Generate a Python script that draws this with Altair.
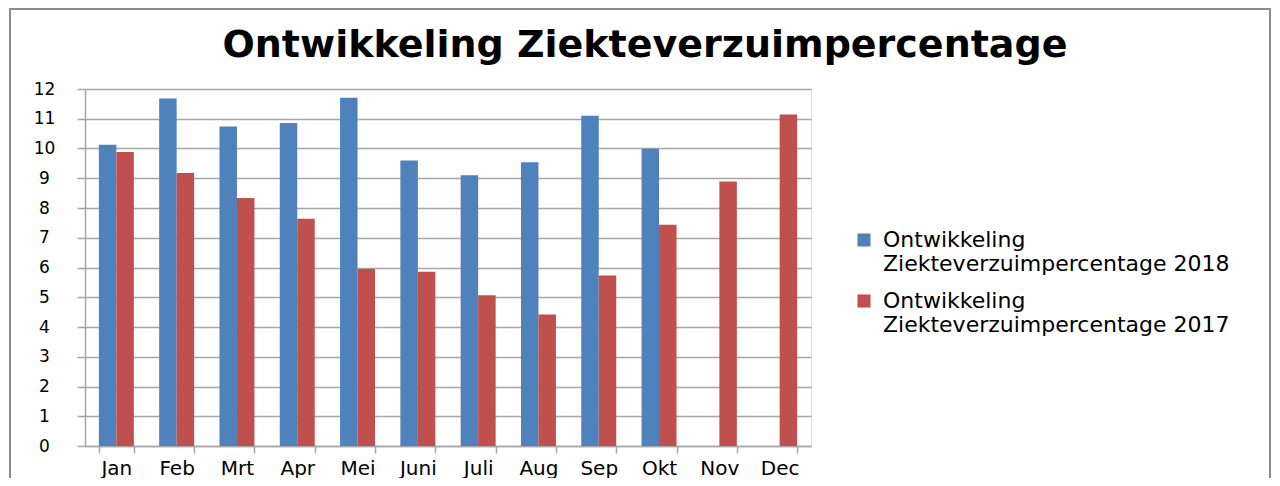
import altair as alt
import pandas as pd

months = ["Jan", "Feb", "Mrt", "Apr", "Mei", "Juni", "Juli", "Aug", "Sep", "Okt", "Nov", "Dec"]
values_2018 = [10.13, 11.68, 10.74, 10.86, 11.71, 9.6, 9.1, 9.54, 11.1, 9.99, None, None]
values_2017 = [9.88, 9.18, 8.34, 7.64, 5.95, 5.86, 5.07, 4.42, 5.73, 7.44, 8.89, 11.14]
series = ["2018", "2017"]
colors = ["#4F81BD", "#C0504D"]
y_ticks = list(range(0, 13))
title_text = "Ontwikkeling Ziekteverzuimpercentage"

rows = []
for i, m in enumerate(months):
    rows.append({"maand": m, "jaar": "2018", "waarde": values_2018[i]})
    rows.append({"maand": m, "jaar": "2017", "waarde": values_2017[i]})
df = pd.DataFrame(rows)

FONT = "DejaVu Sans"
GRID = "#A6A6A6"

bars = alt.Chart(df).mark_bar().encode(
    x=alt.X("maand:N", sort=months, title=None,
            scale=alt.Scale(paddingInner=0.42, paddingOuter=0.23),
            axis=alt.Axis(labelAngle=0, labelFont=FONT, labelFontSize=20, labelColor="#000000",
                          labelPadding=5, tickSize=7, tickBand="extent", tickColor=GRID,
                          domainColor=GRID, domainWidth=1.5, tickWidth=1.5, grid=False)),
    xOffset=alt.XOffset("jaar:N", sort=series, scale=alt.Scale(paddingInner=0, paddingOuter=0)),
    y=alt.Y("waarde:Q", title=None,
            scale=alt.Scale(domain=[0, 12], nice=False),
            axis=alt.Axis(values=y_ticks, labelFont=FONT, labelFontSize=17, labelColor="#000000",
                          labelAlign="center", labelPadding=33, tickSize=8, tickColor=GRID,
                          tickWidth=1.5, domainColor=GRID, domainWidth=1.5,
                          gridColor=GRID, gridWidth=1.5)),
    color=alt.Color("jaar:N", sort=series, title=None,
                    scale=alt.Scale(domain=series, range=colors),
                    legend=alt.Legend(
                        orient="none", legendX=768, legendY=140,
                        symbolType="square", symbolSize=170, symbolStrokeWidth=0,
                        labelFont=FONT, labelFontSize=22, labelColor="#000000",
                        labelLimit=0, labelOffset=8, rowPadding=15,
                        labelExpr="['Ontwikkeling', 'Ziekteverzuimpercentage ' + datum.label]")),
)

dummy = pd.DataFrame({"a": [0]})

frame = alt.Chart(dummy).mark_rect(
    filled=False, stroke="#8C8C8C", strokeWidth=2
).encode(
    x=alt.value(-75), x2=alt.value(1185), y=alt.value(-80), y2=alt.value(420)
)

title = alt.Chart(dummy).mark_text(
    text=title_text, font=FONT, fontSize=38, fontWeight="bold", color="#000000",
    align="center", baseline="alphabetic"
).encode(x=alt.value(560), y=alt.value(-32))

chart = alt.layer(frame, title, bars).properties(
    width=726,
    height=357,
    autosize=alt.AutoSizeParams(type="none"),
    padding={"left": 77, "top": 81, "right": 461, "bottom": 32},
).configure_view(stroke=None).configure(background="#FFFFFF")

chart.save("out.html", embed_options={"renderer": "svg", "actions": False})
